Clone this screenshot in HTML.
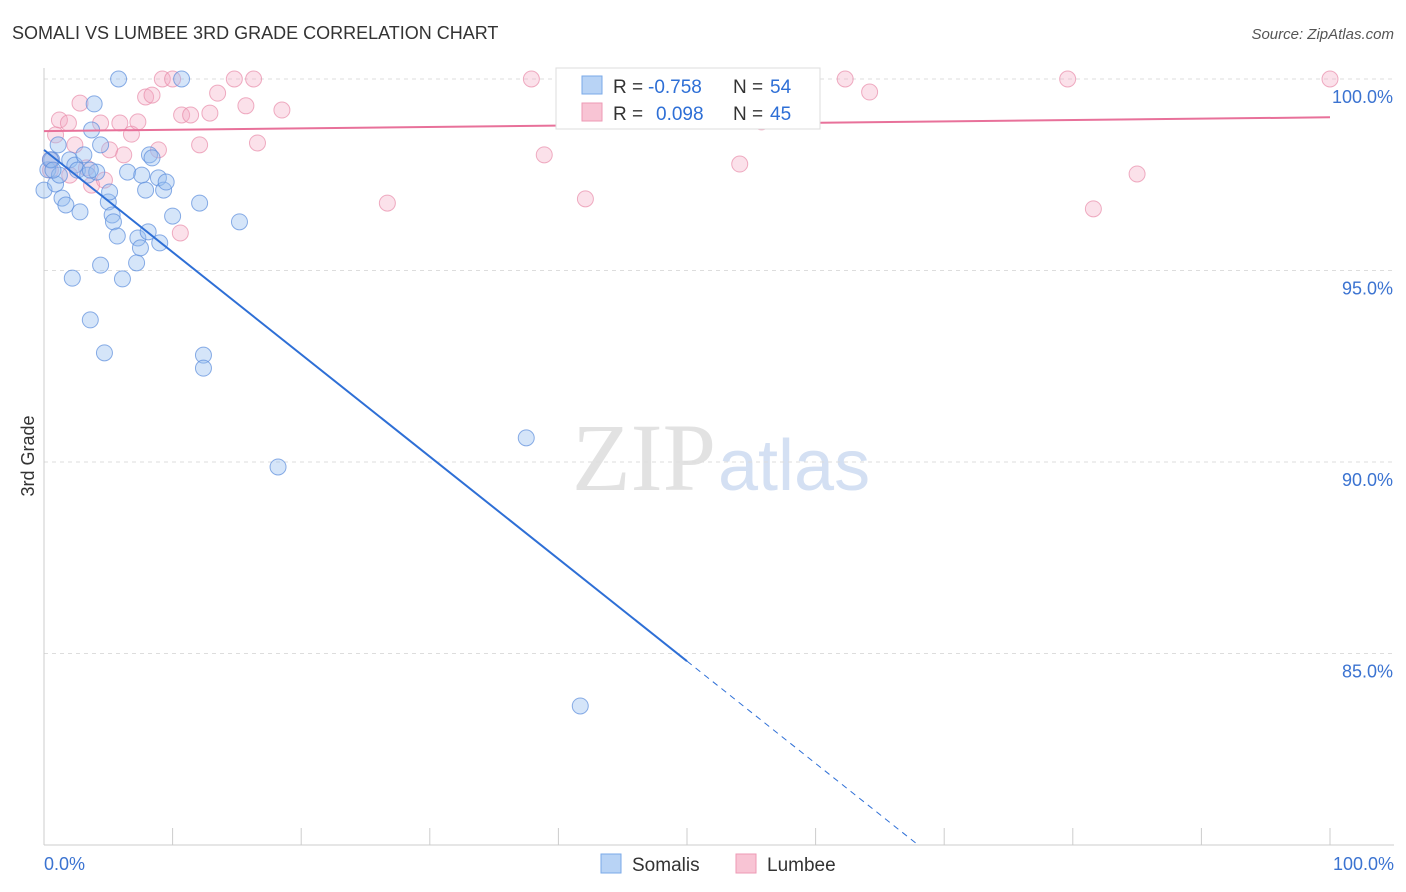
<!DOCTYPE html>
<html><head><meta charset="utf-8">
<style>
body{margin:0;background:#fff;font-family:"Liberation Sans",sans-serif;}
svg{display:block}
</style></head>
<body>
<svg id="c" width="1406" height="892" viewBox="0 0 1406 892" xmlns="http://www.w3.org/2000/svg">
<text x="12" y="39" font-size="18" fill="#333">SOMALI VS LUMBEE 3RD GRADE CORRELATION CHART</text>
<text x="1394" y="39" font-size="15" fill="#555" font-style="italic" text-anchor="end">Source: ZipAtlas.com</text>
<text x="716" y="490" font-size="96" fill="#e2e2e2" text-anchor="end" font-family="Liberation Serif,serif">ZIP</text>
<text x="718" y="490" font-size="72" fill="#d4e0f3">atlas</text>
<g id="grid"></g>
<g id="axes"></g>
<g id="marks"></g>
<text x="34" y="456" font-size="18" fill="#333" text-anchor="middle" transform="rotate(-90 34 456)">3rd Grade</text>
<g>
<rect x="556" y="68" width="264" height="61" fill="#fff" stroke="#ddd"/>
<rect x="582" y="76" width="20" height="18" fill="#b8d3f5" stroke="#7aaae8"/>
<rect x="582" y="103" width="20" height="18" fill="#f8c4d4" stroke="#ee9ab5"/>
<text x="613" y="93" font-size="19" fill="#333">R =</text>
<text x="648" y="93" font-size="19" fill="#2e6fd6">-0.758</text>
<text x="733" y="93" font-size="19" fill="#333">N =</text>
<text x="770" y="93" font-size="19" fill="#2e6fd6">54</text>
<text x="613" y="120" font-size="19" fill="#333">R =</text>
<text x="656" y="120" font-size="19" fill="#2e6fd6">0.098</text>
<text x="733" y="120" font-size="19" fill="#333">N =</text>
<text x="770" y="120" font-size="19" fill="#2e6fd6">45</text>
</g>
<g>
<rect x="601" y="854" width="20" height="19" fill="#b8d3f5" stroke="#7aaae8"/>
<text x="632" y="871" font-size="19" fill="#333">Somalis</text>
<rect x="736" y="854" width="20" height="19" fill="#f8c4d4" stroke="#ee9ab5"/>
<text x="767" y="871" font-size="19" fill="#333">Lumbee</text>
</g>
</svg>
<script>
const somaliX=[0,0.3,0.6,0.9,1.1,1.2,1.4,1.7,2.0,2.2,2.4,2.6,2.8,3.1,3.4,3.6,3.7,3.9,4.1,4.4,4.4,4.7,5.0,5.1,5.3,5.4,5.7,5.8,6.1,6.5,7.2,7.3,7.5,7.6,7.9,8.1,8.2,8.4,8.9,9.0,9.3,9.5,10.0,10.7,12.1,12.4,12.4,15.2,18.2,37.5,41.7,0.5,0.7,3.6];
const somaliY=[97.10,97.63,97.89,97.26,98.28,97.49,96.89,96.71,97.89,94.80,97.75,97.62,96.53,98.02,97.49,93.71,98.67,99.35,97.57,98.28,95.14,92.85,96.79,97.05,96.45,96.27,95.90,100,94.78,97.57,95.20,95.85,95.59,97.49,97.10,96.01,98.02,97.94,97.42,95.72,97.10,97.31,96.42,100,96.76,92.79,92.45,96.27,89.87,90.63,83.63,97.89,97.62,97.62];
const lumbeeX=[0.5,0.9,1.2,1.9,2.4,2.8,3.3,3.7,4.4,4.7,5.1,5.9,6.2,6.8,7.3,7.9,8.4,8.9,9.2,10.0,10.6,10.7,11.4,12.1,12.9,13.5,14.8,15.7,16.3,16.6,18.5,26.7,37.9,38.9,42.1,54.1,55.8,62.3,64.2,79.6,81.6,85.0,100,0.5,2.0];
const lumbeeY=[97.89,98.54,98.93,98.85,98.28,99.37,97.68,97.23,98.85,97.36,98.15,98.85,98.02,98.56,98.88,99.53,99.58,98.15,100,100,95.98,99.06,99.06,98.28,99.11,99.63,100,99.30,100,98.33,99.19,96.76,100,98.02,96.87,97.78,98.88,100,99.66,100,96.61,97.52,100,97.62,97.49];
const somaliTrend=[98.15,-0.267];
const lumbeeTrend=[98.64,0.0036];
const yTicks=[100,95,90,85];
const yTickLabels=["100.0%","95.0%","90.0%","85.0%"];
const xTicks=[0,10,20,30,40,50,60,70,80,90,100];

const NS="http://www.w3.org/2000/svg";
const X=v=>44+v*12.86;
const Y=v=>79+(100-v)*38.3;
function mk(parent,tag,attrs){const e=document.createElementNS(NS,tag);for(const k in attrs)e.setAttribute(k,attrs[k]);document.getElementById(parent).appendChild(e);return e;}

yTicks.forEach((t,i)=>{
  const l=mk('grid','line',{x1:44,x2:1394,y1:Y(t),y2:Y(t),stroke:'#ddd','stroke-dasharray':'4,4'});
  
  
  const tx=mk('axes','text',{x:1393,y:Y(t)+24,'font-size':18,fill:'#3b73d1','text-anchor':'end'});
  tx.textContent=yTickLabels[i];
  
  
});
const ya=mk('axes','line',{x1:44,x2:44,y1:68,y2:845,stroke:'#ccc'});


const xa=mk('axes','line',{x1:44,x2:1394,y1:845,y2:845,stroke:'#ccc'});


xTicks.forEach(t=>{
  const l=mk('axes','line',{x1:X(t),x2:X(t),y1:828,y2:845,stroke:'#ccc'});
  
  
});
const xl0=mk('axes','text',{x:44,y:870,'font-size':18,fill:'#3b73d1'});xl0.textContent='0.0%';


const xl1=mk('axes','text',{x:1394,y:870,'font-size':18,fill:'#3b73d1','text-anchor':'end'});xl1.textContent='100.0%';



lumbeeX.forEach((x,i)=>{
  const c=mk('marks','circle',{cx:X(x),cy:Y(lumbeeY[i]),r:8,fill:'rgba(244,170,195,0.35)',stroke:'rgba(232,140,170,0.7)','stroke-width':1});
  
  
});
somaliX.forEach((x,i)=>{
  const c=mk('marks','circle',{cx:X(x),cy:Y(somaliY[i]),r:8,fill:'rgba(150,190,240,0.4)',stroke:'rgba(90,140,220,0.7)','stroke-width':1});
  
  
});
const sy=x=>somaliTrend[0]+somaliTrend[1]*x;
const xEnd=(80-somaliTrend[0])/somaliTrend[1];
const s1=mk('marks','line',{x1:X(0),y1:Y(sy(0)),x2:X(50),y2:Y(sy(50)),stroke:'#2e6fd6','stroke-width':2});


const s2=mk('marks','line',{x1:X(50),y1:Y(sy(50)),x2:X(xEnd),y2:Y(80),stroke:'#2e6fd6','stroke-width':1,'stroke-dasharray':'6,5'});


const ly=x=>lumbeeTrend[0]+lumbeeTrend[1]*x;
const l1=mk('marks','line',{x1:X(0),y1:Y(ly(0)),x2:X(100),y2:Y(ly(100)),stroke:'#e8719a','stroke-width':2});


</script>
</body></html>
